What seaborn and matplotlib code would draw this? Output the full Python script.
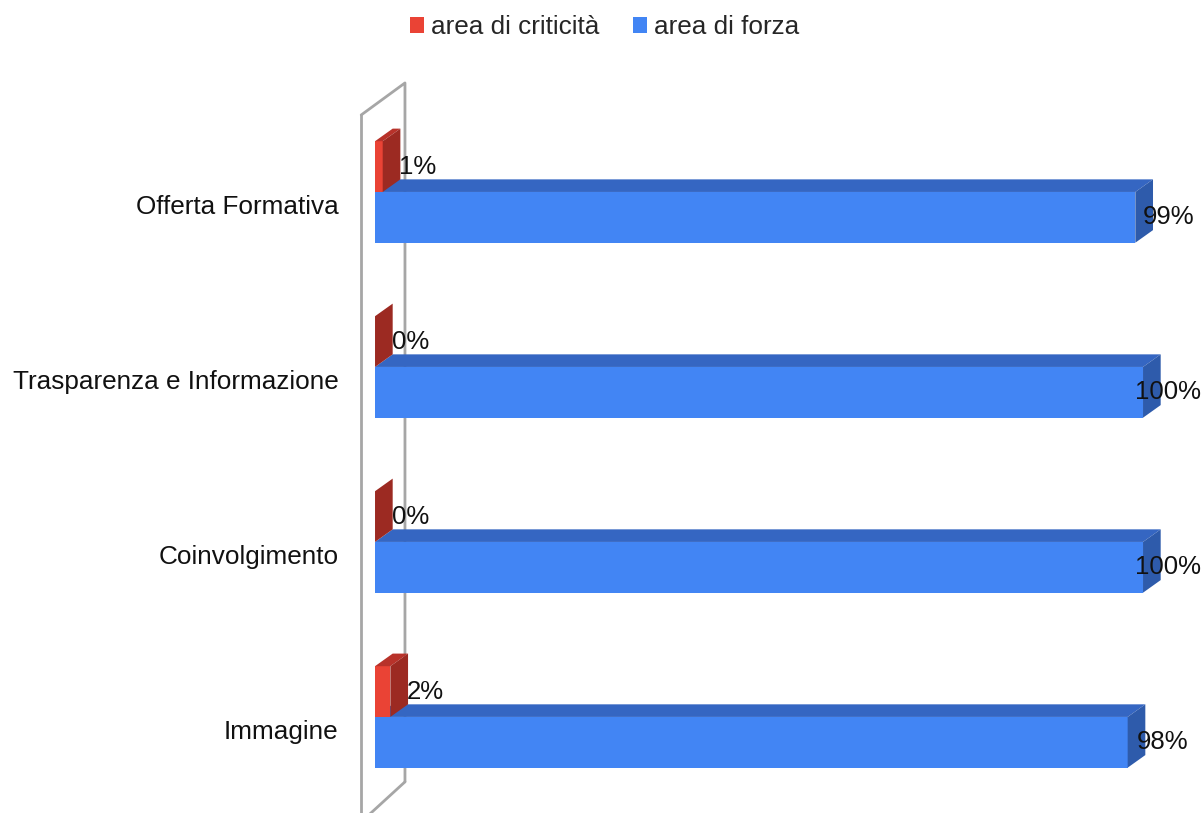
import pandas as pd
import matplotlib.pyplot as plt
import matplotlib.colors as mcolors
import seaborn as sns
from matplotlib.patches import Polygon, Patch
from matplotlib.lines import Line2D

categories = ["Offerta Formativa", "Trasparenza e Informazione", "Coinvolgimento", "Immagine"]
criticita = [1, 0, 0, 2]
forza = [99, 100, 100, 98]
series_names = ["area di criticità", "area di forza"]

front = {"area di criticità": "#ea4335", "area di forza": "#4285f4"}
top = {"area di criticità": "#b8322a", "area di forza": "#3566c2"}
side = {"area di criticità": "#9c2a22", "area di forza": "#2e5bab"}

df = pd.DataFrame({
    "categoria": categories * 2,
    "serie": [series_names[0]] * 4 + [series_names[1]] * 4,
    "valore": criticita + forza,
})

sns.set_style("white")
plt.rcParams["font.family"] = ["Liberation Sans", "DejaVu Sans"]

fig = plt.figure(figsize=(12.04, 8.13), dpi=100)
ax = fig.add_axes([340 / 1204, 0, 864 / 1204, 1])

sns.barplot(data=df, y="categoria", x="valore", hue="serie", hue_order=series_names,
            palette=front, orient="h", width=0.58, saturation=1, legend=False,
            linewidth=0, ax=ax)

ax.set_xlim(-4.56, 107.94)
ax.set_ylim(3.549, -1.097)


def series_of(patch):
    rgb = tuple(round(c, 3) for c in patch.get_facecolor()[:3])
    for name, c in front.items():
        if rgb == tuple(round(v, 3) for v in mcolors.to_rgb(c)):
            return name
    return None


# fake 3d depth
dx, dy = 2.3, 0.072
for p in list(ax.patches):
    col = series_of(p)
    if col is None:
        continue
    x0, y0, w, h = p.get_x(), p.get_y(), p.get_width(), p.get_height()
    x1 = x0 + w
    z = 3 if col == series_names[0] else 2
    p.set_zorder(z)
    ax.add_patch(Polygon([(x0, y0), (x1, y0), (x1 + dx, y0 - dy), (x0 + dx, y0 - dy)],
                         closed=True, facecolor=top[col], edgecolor="none", zorder=z))
    ax.add_patch(Polygon([(x1, y0), (x1, y0 + h), (x1 + dx, y0 + h - dy), (x1 + dx, y0 - dy)],
                         closed=True, facecolor=side[col], edgecolor="none", zorder=z))
    ax.text(min(x1 + 4.6, 103.3), y0 + h / 2, f"{w:.0f}%", ha="center", va="center",
            fontsize=18.5, color="#111111", zorder=5)

# side wall
wall_x = [-1.8, 3.9, 3.9, -1.8]
wall_y = [-0.44, -0.623, 3.371, 3.55]
ax.add_line(Line2D(wall_x[:3], wall_y[:3], color="#a6a6a6", lw=2, zorder=1))
ax.add_line(Line2D([wall_x[0], wall_x[3]], [wall_y[0], wall_y[3]], color="#a6a6a6", lw=2, zorder=1))
ax.add_line(Line2D([wall_x[2], -1.8], [wall_y[2], 3.6], color="#a6a6a6", lw=2, zorder=1))

ax.set_yticks([i + 0.07 for i in range(len(categories))])
ax.set_yticklabels(categories, fontsize=18.8, color="#111111")
ax.tick_params(axis="y", length=0, pad=1)
ax.set_xticks([])
ax.set_xlabel("")
ax.set_ylabel("")
sns.despine(ax=ax, left=True, bottom=True)

handles = [Patch(facecolor=front[s], edgecolor="none", label=s) for s in series_names]
fig.legend(handles=handles, loc="upper center", bbox_to_anchor=(0.502, 1.01), ncol=2,
           frameon=False, fontsize=18.8, handlelength=0.55, handleheight=0.55,
           handletextpad=0.25, columnspacing=1.3)

fig.savefig("out.png", dpi=100)
